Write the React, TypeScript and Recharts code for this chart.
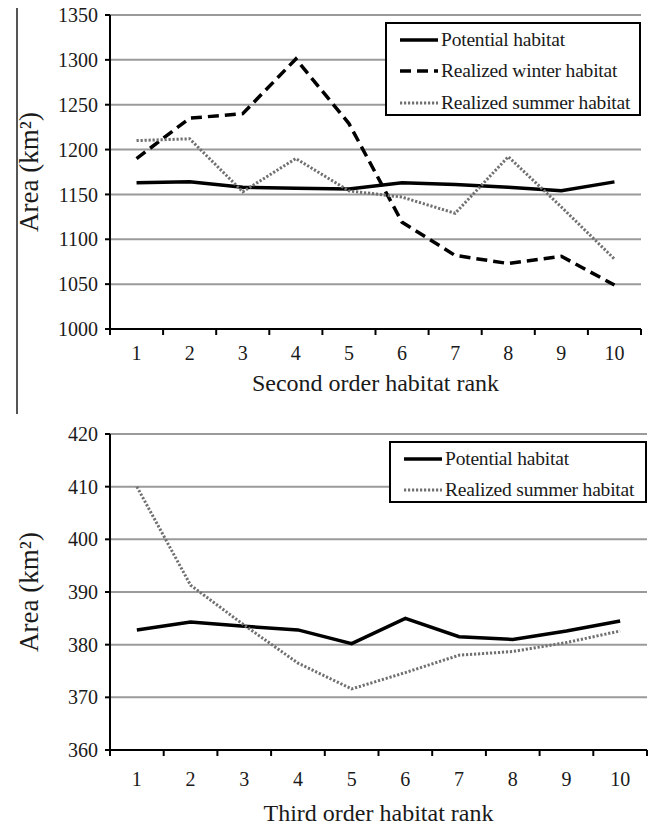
import React from 'react';
import { CartesianGrid, Label, Line, LineChart, XAxis, YAxis } from 'recharts';

// x categories
const ranks = [1, 2, 3, 4, 5, 6, 7, 8, 9, 10];

// second order (top panel)
const secondPotential = [1163, 1164, 1158, 1157, 1156, 1163, 1161, 1158, 1154, 1164];
const secondWinter = [1190, 1235, 1240, 1301, 1229, 1119, 1082, 1073, 1081, 1049];
const secondSummer = [1210, 1212, 1153, 1190, 1154, 1147, 1129, 1192, 1136, 1078];
const secondTicks = [1000, 1050, 1100, 1150, 1200, 1250, 1300, 1350];

// third order (bottom panel)
const thirdPotential = [382.8, 384.3, 383.5, 382.8, 380.2, 385.0, 381.5, 381.0, 382.6, 384.5];
const thirdSummer = [410.0, 391.3, 383.7, 376.5, 371.6, 374.7, 378.0, 378.7, 380.4, 382.6];
const thirdTicks = [360, 370, 380, 390, 400, 410, 420];

const FONT = '"Liberation Serif", "Times New Roman", serif';
const INK = '#1a1a1a';

const secondData = ranks.map((rank, i) => ({
  rank,
  potential: secondPotential[i],
  winter: secondWinter[i],
  summer: secondSummer[i],
}));

const thirdData = ranks.map((rank, i) => ({
  rank,
  potential: thirdPotential[i],
  summer: thirdSummer[i],
}));

// tick lines sit between categories, labels on the categories
const xTicks = [...ranks.map((r) => r - 0.5), ranks[ranks.length - 1] + 0.5, ...ranks].sort(
  (a, b) => a - b,
);

const SERIES = {
  potential: { name: 'Potential habitat', stroke: '#000', width: 3.5, dash: undefined },
  winter: { name: 'Realized winter habitat', stroke: '#000', width: 3.5, dash: '11 6' },
  summer: { name: 'Realized summer habitat', stroke: '#707070', width: 3, dash: '2.2 1.8' },
};

type SeriesKey = keyof typeof SERIES;

function RankTick(props: any) {
  const { x, y, payload, gap } = props;
  if (Number.isInteger(payload.value)) {
    return (
      <text
        x={x}
        y={y + gap}
        dy="0.355em"
        textAnchor="middle"
        fontSize={20}
        fontFamily={FONT}
        fill={INK}
      >
        {payload.value}
      </text>
    );
  }
  return <line x1={x} x2={x} y1={y} y2={y + 6} stroke="#000" strokeWidth={2} />;
}

function YTitle(props: any) {
  const vb = props.viewBox;
  const cx = 29;
  const cy = vb.y + vb.height / 2;
  return (
    <text
      x={cx}
      y={cy}
      dy="0.35em"
      textAnchor="middle"
      transform={`rotate(-90 ${cx} ${cy})`}
      fontSize={27}
      fontFamily={FONT}
      fill={INK}
    >
      Area (km²)
    </text>
  );
}

function XTitle(props: any) {
  const { viewBox, text, gap } = props;
  return (
    <text
      x={viewBox.x + viewBox.width / 2}
      y={viewBox.y + gap}
      dy="0.35em"
      textAnchor="middle"
      fontSize={24}
      fontFamily={FONT}
      fill={INK}
    >
      {text}
    </text>
  );
}

function LegendBox({
  keys,
  style,
  rowGap,
}: {
  keys: SeriesKey[];
  style: React.CSSProperties;
  rowGap: number;
}) {
  return (
    <div
      style={{
        position: 'absolute',
        boxSizing: 'border-box',
        border: '2px solid #000',
        background: '#fff',
        paddingLeft: 12,
        ...style,
      }}
    >
      {keys.map((k) => {
        const s = SERIES[k];
        return (
          <div
            key={k}
            style={{ display: 'flex', alignItems: 'center', height: rowGap, whiteSpace: 'nowrap' }}
          >
            <svg width={40} height={10}>
              <line
                x1={1}
                x2={39}
                y1={5}
                y2={5}
                stroke={s.stroke}
                strokeWidth={s.width}
                strokeDasharray={s.dash}
              />
            </svg>
            <span style={{ fontSize: 19.5, color: INK, marginLeft: 2, letterSpacing: -0.2 }}>
              {s.name}
            </span>
          </div>
        );
      })}
    </div>
  );
}

function seriesLine(k: SeriesKey) {
  const s = SERIES[k];
  return (
    <Line
      key={k}
      type="linear"
      dataKey={k}
      name={s.name}
      stroke={s.stroke}
      strokeWidth={s.width}
      strokeDasharray={s.dash}
      dot={false}
      activeDot={false}
      isAnimationActive={false}
    />
  );
}

export default function App() {
  return (
    <div
      style={{
        position: 'absolute',
        left: 0,
        top: 0,
        width: 651,
        height: 826,
        background: '#fff',
        fontFamily: FONT,
        overflow: 'hidden',
      }}
    >
      <div
        style={{
          position: 'absolute',
          left: 16,
          top: 8,
          width: 1.5,
          height: 406,
          background: '#555',
        }}
      />

      <div style={{ position: 'absolute', left: 0, top: 0 }}>
        <LineChart
          width={651}
          height={420}
          data={secondData}
          margin={{ top: 15, right: 10, bottom: 0, left: 0 }}
        >
          <CartesianGrid vertical={false} stroke="#9a9a9a" strokeWidth={2} />
          <XAxis
            dataKey="rank"
            type="number"
            domain={[0.5, 10.5]}
            ticks={xTicks}
            interval={0}
            height={91}
            tickSize={0}
            tickMargin={0}
            tickLine={false}
            axisLine={{ stroke: '#000', strokeWidth: 2 }}
            tick={(p: any) => <RankTick {...p} gap={24} />}
          >
            <Label content={(p: any) => <XTitle {...p} gap={54} text="Second order habitat rank" />} />
          </XAxis>
          <YAxis
            type="number"
            domain={[1000, 1350]}
            ticks={secondTicks}
            interval={0}
            width={110}
            tickSize={5}
            tickMargin={7}
            axisLine={{ stroke: '#000', strokeWidth: 2 }}
            tickLine={{ stroke: '#000', strokeWidth: 2 }}
            tick={{ fontSize: 20, fill: INK, fontFamily: FONT }}
          >
            <Label content={(p: any) => <YTitle {...p} />} />
          </YAxis>
          {seriesLine('potential')}
          {seriesLine('winter')}
          {seriesLine('summer')}
        </LineChart>
        <LegendBox
          keys={['potential', 'winter', 'summer']}
          rowGap={31.5}
          style={{ left: 385, top: 22, width: 256, height: 94 }}
        />
      </div>

      <div style={{ position: 'absolute', left: 0, top: 420 }}>
        <LineChart
          width={651}
          height={406}
          data={thirdData}
          margin={{ top: 14, right: 4, bottom: 0, left: 0 }}
        >
          <CartesianGrid vertical={false} stroke="#9a9a9a" strokeWidth={2} />
          <XAxis
            dataKey="rank"
            type="number"
            domain={[0.5, 10.5]}
            ticks={xTicks}
            interval={0}
            height={76}
            tickSize={0}
            tickMargin={0}
            tickLine={false}
            axisLine={{ stroke: '#000', strokeWidth: 2 }}
            tick={(p: any) => <RankTick {...p} gap={29} />}
          >
            <Label content={(p: any) => <XTitle {...p} gap={63} text="Third order habitat rank" />} />
          </XAxis>
          <YAxis
            type="number"
            domain={[360, 420]}
            ticks={thirdTicks}
            interval={0}
            width={110}
            tickSize={5}
            tickMargin={7}
            axisLine={{ stroke: '#000', strokeWidth: 2 }}
            tickLine={{ stroke: '#000', strokeWidth: 2 }}
            tick={{ fontSize: 20, fill: INK, fontFamily: FONT }}
          >
            <Label content={(p: any) => <YTitle {...p} />} />
          </YAxis>
          {seriesLine('potential')}
          {seriesLine('summer')}
        </LineChart>
        <LegendBox
          keys={['potential', 'summer']}
          rowGap={31.5}
          style={{ left: 389, top: 21, width: 258, height: 62 }}
        />
      </div>
    </div>
  );
}
